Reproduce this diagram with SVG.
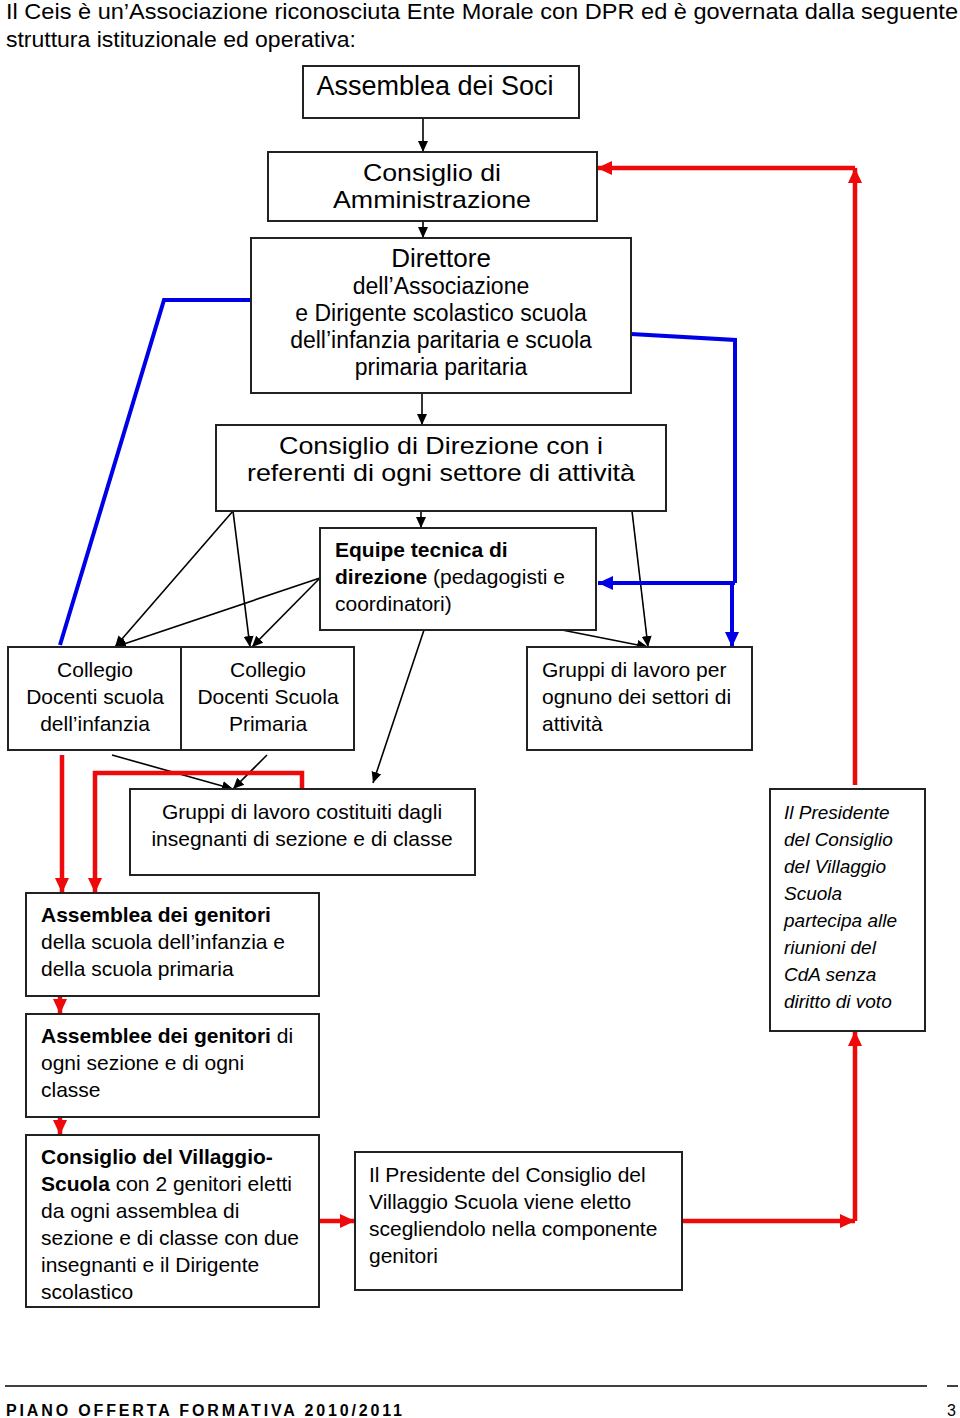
<svg xmlns="http://www.w3.org/2000/svg" width="960" height="1418" viewBox="0 0 960 1418">
<style>
text{font-family:"Liberation Sans",Arial,sans-serif;fill:#000}
.box{fill:#fff;stroke:#222;stroke-width:2}
.big{font-size:26px}
.big2{font-size:24px}
.mid{font-size:23px}
.sm{font-size:21px}
.it{font-size:19px;font-style:italic}
.c{text-anchor:middle}
.b{font-weight:bold}
.k{stroke:#000;stroke-width:1.6;fill:none}
.bl{stroke:#0000e6;stroke-width:4;fill:none}
.rd{stroke:#ee0a0a;stroke-width:4.5;fill:none}
</style>
<defs>
<marker id="ak" markerUnits="userSpaceOnUse" markerWidth="12" markerHeight="12" refX="11" refY="6" orient="auto"><path d="M0,1 L11,6 L0,11 z" fill="#000"/></marker>
<marker id="ab" markerUnits="userSpaceOnUse" markerWidth="16" markerHeight="14" refX="15" refY="7" orient="auto"><path d="M0,0 L15,7 L0,14 z" fill="#0000e6"/></marker>
<marker id="ar" markerUnits="userSpaceOnUse" markerWidth="16" markerHeight="16" refX="15" refY="8" orient="auto"><path d="M0,1 L15,8 L0,15 z" fill="#ee0a0a"/></marker>
</defs>
<rect width="960" height="1418" fill="#fff"/>

<g id="header">
<text x="6" y="19" font-size="22" textLength="952" lengthAdjust="spacingAndGlyphs">Il Ceis è un’Associazione riconosciuta Ente Morale con DPR ed è governata dalla seguente</text>
<text x="6" y="47" font-size="22" textLength="350" lengthAdjust="spacingAndGlyphs">struttura istituzionale ed operativa:</text>
</g>

<g id="connectors">
<line class="k" x1="423" y1="118" x2="423" y2="152" marker-end="url(#ak)"/>
<line class="k" x1="423" y1="221" x2="423" y2="238" marker-end="url(#ak)"/>
<line class="k" x1="422" y1="393" x2="422" y2="425" marker-end="url(#ak)"/>
<line class="k" x1="421" y1="511" x2="421" y2="528" marker-end="url(#ak)"/>
<line class="k" x1="233" y1="511" x2="115" y2="647" marker-end="url(#ak)"/>
<line class="k" x1="233" y1="511" x2="250" y2="647" marker-end="url(#ak)"/>
<line class="k" x1="320" y1="578" x2="115" y2="647" marker-end="url(#ak)"/>
<line class="k" x1="320" y1="578" x2="252" y2="647" marker-end="url(#ak)"/>
<line class="k" x1="632" y1="511" x2="648" y2="647" marker-end="url(#ak)"/>
<line class="k" x1="562" y1="630" x2="648" y2="647" marker-end="url(#ak)"/>
<line class="k" x1="424" y1="630" x2="373" y2="783" marker-end="url(#ak)"/>
<line class="k" x1="112" y1="755" x2="233" y2="789" marker-end="url(#ak)"/>
<line class="k" x1="267" y1="755" x2="233" y2="789" marker-end="url(#ak)"/>

<polyline class="bl" points="251,300 164,300 60,645"/>
<polyline class="bl" points="631,334 735,340 735,583"/>
<line class="bl" x1="735" y1="583" x2="598" y2="583" marker-end="url(#ab)"/>
<line class="bl" x1="732" y1="583" x2="732" y2="647" marker-end="url(#ab)"/>

<line class="rd" x1="855" y1="785" x2="855" y2="168" marker-end="url(#ar)"/>
<line class="rd" x1="855" y1="168" x2="597" y2="168" marker-end="url(#ar)"/>
<line class="rd" x1="62" y1="755" x2="62" y2="893" marker-end="url(#ar)"/>
<polyline class="rd" points="302,789 302,773 95,773 95,893" marker-end="url(#ar)"/>
<line class="rd" x1="60" y1="996" x2="60" y2="1014" marker-end="url(#ar)"/>
<line class="rd" x1="60" y1="1117" x2="60" y2="1135" marker-end="url(#ar)"/>
<line class="rd" x1="319" y1="1221" x2="355" y2="1221" marker-end="url(#ar)"/>
<line class="rd" x1="682" y1="1221" x2="855" y2="1221" marker-end="url(#ar)"/>
<line class="rd" x1="855" y1="1221" x2="855" y2="1031" marker-end="url(#ar)"/>
</g>

<g id="n-assemblea-soci">
<rect class="box" x="303" y="66" width="276" height="52"/>
<text class="c" font-size="27" x="435" y="95">Assemblea dei Soci</text>
</g>

<g id="n-cda">
<rect class="box" x="268" y="152" width="329" height="69"/>
<text class="big2 c" x="432" y="181" textLength="138" lengthAdjust="spacingAndGlyphs">Consiglio di</text>
<text class="big2 c" x="432" y="208" textLength="198" lengthAdjust="spacingAndGlyphs">Amministrazione</text>
</g>

<g id="n-direttore">
<rect class="box" x="251" y="238" width="380" height="155"/>
<text class="big c" x="441" y="267">Direttore</text>
<text class="mid c" x="441" y="294">dell’Associazione</text>
<text class="mid c" x="441" y="321">e Dirigente scolastico scuola</text>
<text class="mid c" x="441" y="348">dell’infanzia paritaria e scuola</text>
<text class="mid c" x="441" y="375">primaria paritaria</text>
</g>

<g id="n-consiglio-direzione">
<rect class="box" x="216" y="425" width="450" height="86"/>
<text class="big2 c" x="441" y="454" textLength="324" lengthAdjust="spacingAndGlyphs">Consiglio di Direzione con i</text>
<text class="big2 c" x="441" y="481" textLength="388" lengthAdjust="spacingAndGlyphs">referenti di ogni settore di attività</text>
</g>

<g id="n-equipe">
<rect class="box" x="320" y="528" width="276" height="102"/>
<text class="sm b" x="335" y="557">Equipe tecnica di</text>
<text class="sm" x="335" y="584"><tspan class="b">direzione</tspan> (pedagogisti e</text>
<text class="sm" x="335" y="611">coordinatori)</text>
</g>

<g id="n-collegio-infanzia">
<rect class="box" x="8" y="647" width="173" height="103"/>
<text class="sm c" x="95" y="677">Collegio</text>
<text class="sm c" x="95" y="704">Docenti scuola</text>
<text class="sm c" x="95" y="731">dell’infanzia</text>
</g>

<g id="n-collegio-primaria">
<rect class="box" x="181" y="647" width="173" height="103"/>
<text class="sm c" x="268" y="677">Collegio</text>
<text class="sm c" x="268" y="704">Docenti Scuola</text>
<text class="sm c" x="268" y="731">Primaria</text>
</g>

<g id="n-gruppi-settori">
<rect class="box" x="527" y="647" width="225" height="103"/>
<text class="sm" x="542" y="677">Gruppi di lavoro per</text>
<text class="sm" x="542" y="704">ognuno dei settori di</text>
<text class="sm" x="542" y="731">attività</text>
</g>

<g id="n-gruppi-insegnanti">
<rect class="box" x="130" y="789" width="345" height="86"/>
<text class="sm c" x="302" y="819">Gruppi di lavoro costituiti dagli</text>
<text class="sm c" x="302" y="846">insegnanti di sezione e di classe</text>
</g>

<g id="n-assemblea-genitori">
<rect class="box" x="26" y="893" width="293" height="103"/>
<text class="sm b" x="41" y="922">Assemblea dei genitori</text>
<text class="sm" x="41" y="949">della scuola dell’infanzia e</text>
<text class="sm" x="41" y="976">della scuola primaria</text>
</g>

<g id="n-assemblee-sezione">
<rect class="box" x="26" y="1014" width="293" height="103"/>
<text class="sm" x="41" y="1043"><tspan class="b">Assemblee dei genitori</tspan> di</text>
<text class="sm" x="41" y="1070">ogni sezione e di ogni</text>
<text class="sm" x="41" y="1097">classe</text>
</g>

<g id="n-consiglio-villaggio">
<rect class="box" x="26" y="1135" width="293" height="172"/>
<text class="sm b" x="41" y="1164">Consiglio del Villaggio-</text>
<text class="sm" x="41" y="1191"><tspan class="b">Scuola</tspan> con 2 genitori eletti</text>
<text class="sm" x="41" y="1218">da ogni assemblea di</text>
<text class="sm" x="41" y="1245">sezione e di classe con due</text>
<text class="sm" x="41" y="1272">insegnanti e il Dirigente</text>
<text class="sm" x="41" y="1299">scolastico</text>
</g>

<g id="n-presidente-eletto">
<rect class="box" x="355" y="1152" width="327" height="138"/>
<text class="sm" x="369" y="1182">Il Presidente del Consiglio del</text>
<text class="sm" x="369" y="1209">Villaggio Scuola viene eletto</text>
<text class="sm" x="369" y="1236">scegliendolo nella componente</text>
<text class="sm" x="369" y="1263">genitori</text>
</g>

<g id="n-presidente-cda">
<rect class="box" x="770" y="789" width="155" height="242"/>
<text class="it" x="784" y="819">Il Presidente</text>
<text class="it" x="784" y="846">del Consiglio</text>
<text class="it" x="784" y="873">del Villaggio</text>
<text class="it" x="784" y="900">Scuola</text>
<text class="it" x="784" y="927">partecipa alle</text>
<text class="it" x="784" y="954">riunioni del</text>
<text class="it" x="784" y="981">CdA senza</text>
<text class="it" x="784" y="1008">diritto di voto</text>
</g>

<g id="footer">
<line x1="5" y1="1386" x2="927" y2="1386" stroke="#000" stroke-width="1.5"/>
<line x1="947" y1="1386" x2="958" y2="1386" stroke="#000" stroke-width="1.5"/>
<text x="6" y="1416" font-size="16" font-weight="bold" textLength="396" lengthAdjust="spacing">PIANO OFFERTA FORMATIVA 2010/2011</text>
<text x="947" y="1416" font-size="16">3</text>
</g>
</svg>
